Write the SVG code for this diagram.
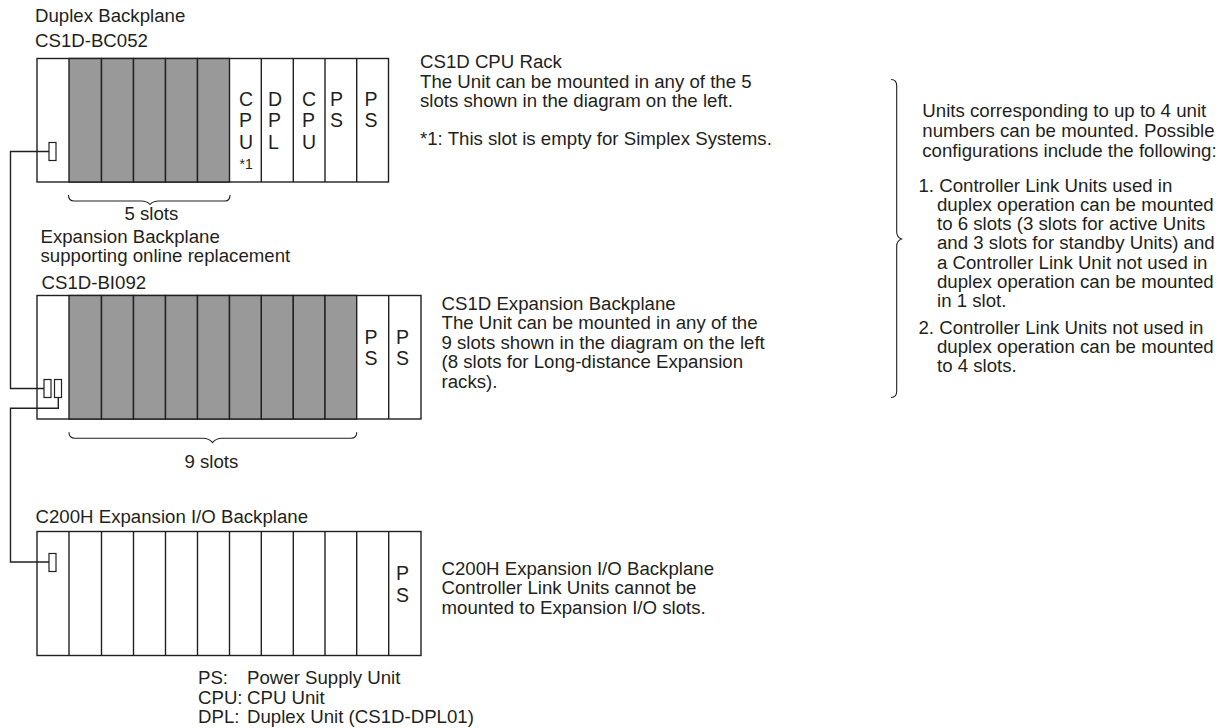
<svg xmlns="http://www.w3.org/2000/svg" width="1226" height="728" viewBox="0 0 1226 728">
<style>
text{font-family:"Liberation Sans",Arial,sans-serif;font-size:18.650px;fill:#231f20}
.b{font-size:19.500px}
.s{font-size:14px}
.r{fill:#fff;stroke:#231f20;stroke-width:1.4}
.g{fill:#999;stroke:#231f20;stroke-width:1.4}
.c{fill:#fff;stroke:#231f20;stroke-width:1.2}
.l{fill:none;stroke:#231f20;stroke-width:1.4}
.t{fill:none;stroke:#231f20;stroke-width:1.1}
</style>
<rect width="1226" height="728" fill="#fff"/>
<g id="labels-left">
<text x="35" y="21.500">Duplex Backplane</text>
<text x="35" y="46.500">CS1D-BC052</text>
<text x="40.500" y="243">Expansion Backplane</text>
<text x="40.500" y="261.500">supporting online replacement</text>
<text x="41.500" y="288.500">CS1D-BI092</text>
<text x="35.500" y="522.500">C200H Expansion I/O Backplane</text>
</g>
<g id="rack-cpu">
<rect class="r" x="37" y="58.500" width="351.500" height="123.500"/>
<rect class="g" x="69" y="58.500" width="32.500" height="123.500"/><rect class="g" x="101.500" y="58.500" width="32" height="123.500"/><rect class="g" x="133.500" y="58.500" width="32" height="123.500"/><rect class="g" x="165.500" y="58.500" width="32" height="123.500"/><rect class="g" x="197.500" y="58.500" width="32" height="123.500"/>
<path class="l" d="M261.300 58.500V182M293.300 58.500V182M325 58.500V182M356.700 58.500V182"/>
<text class="b" x="239" y="106">C</text><text class="b" x="239" y="126.500">P</text><text class="b" x="239" y="148.500">U</text>
<text class="s" x="239.500" y="169">*1</text>
<text class="b" x="268" y="106">D</text><text class="b" x="268" y="126.500">P</text><text class="b" x="268" y="148.500">L</text>
<text class="b" x="302" y="106">C</text><text class="b" x="302" y="126.500">P</text><text class="b" x="302" y="148.500">U</text>
<text class="b" x="330" y="106">P</text><text class="b" x="330" y="126.500">S</text>
<text class="b" x="364.500" y="106">P</text><text class="b" x="364.500" y="126.500">S</text>
<rect class="c" x="49" y="142.500" width="7" height="18"/>
</g>
<g id="rack-expansion">
<rect class="r" x="37" y="295.500" width="384" height="123.500"/>
<rect class="g" x="69" y="295.500" width="32.500" height="123.500"/><rect class="g" x="101.500" y="295.500" width="32" height="123.500"/><rect class="g" x="133.500" y="295.500" width="32" height="123.500"/><rect class="g" x="165.500" y="295.500" width="32" height="123.500"/><rect class="g" x="197.500" y="295.500" width="32" height="123.500"/><rect class="g" x="229.500" y="295.500" width="32" height="123.500"/><rect class="g" x="261.300" y="295.500" width="32" height="123.500"/><rect class="g" x="293.300" y="295.500" width="31.700" height="123.500"/><rect class="g" x="325" y="295.500" width="31.700" height="123.500"/>
<path class="l" d="M388.700 295.500V419"/>
<text class="b" x="364.500" y="343.500">P</text><text class="b" x="364.500" y="365">S</text>
<text class="b" x="396" y="343.500">P</text><text class="b" x="396" y="365">S</text>
<rect class="c" x="44" y="379.500" width="7" height="18"/>
<rect class="c" x="54.500" y="379.500" width="7" height="18"/>
</g>
<g id="rack-c200h">
<rect class="r" x="37" y="531.500" width="384" height="124"/>
<path class="l" d="M69 531.500V655.500M101.500 531.500V655.500M133.500 531.500V655.500M165.500 531.500V655.500M197.500 531.500V655.500M229.500 531.500V655.500M261.300 531.500V655.500M293.300 531.500V655.500M325 531.500V655.500M356.700 531.500V655.500M388.700 531.500V655.500"/>
<text class="b" x="396" y="579.500">P</text><text class="b" x="396" y="602">S</text>
<rect class="c" x="49" y="553.500" width="7" height="18"/>
</g>
<g id="connectors">
<path class="l" d="M49 151.500H10.500V388.500H44"/>
<path class="l" d="M58.300 397.500V408.300H10.500V562H49"/>
</g>
<g id="braces">
<path class="t" d="M68.500 195Q68.500 201 74 201H141Q147 201 150 204.500Q153 201 159 201H225Q230 201 230 195"/>
<path class="t" d="M69 432.300Q69 438.300 75 438.300H203Q209 438.300 212.500 442.700Q216 438.300 222 438.300H351Q356.700 438.300 356.700 432.300"/>
<path class="t" d="M891 79.500Q896.700 79.500 896.700 86V232Q896.700 237 901.500 239Q896.700 241 896.700 246V391Q896.700 397.500 891 397.500"/>
</g>
<g id="brace-labels">
<text x="124.500" y="220">5 slots</text>
<text x="184.500" y="468.300">9 slots</text>
</g>
<g id="desc-cpu">
<text x="420" y="68.300">CS1D CPU Rack</text>
<text x="420" y="87.500">The Unit can be mounted in any of the 5</text>
<text x="420" y="107">slots shown in the diagram on the left.</text>
<text x="420" y="144.500">*1: This slot is empty for Simplex Systems.</text>
</g>
<g id="desc-expansion">
<text x="441.500" y="309.500">CS1D Expansion Backplane</text>
<text x="441.500" y="329">The Unit can be mounted in any of the</text>
<text x="441.500" y="348.500">9 slots shown in the diagram on the left</text>
<text x="441.500" y="368">(8 slots for Long-distance Expansion</text>
<text x="441.500" y="387.500">racks).</text>
</g>
<g id="desc-c200h">
<text x="441.500" y="574.500">C200H Expansion I/O Backplane</text>
<text x="441.500" y="594.300">Controller Link Units cannot be</text>
<text x="441.500" y="614.300">mounted to Expansion I/O slots.</text>
</g>
<g id="legend">
<text x="198" y="684">PS:</text><text x="247" y="684">Power Supply Unit</text>
<text x="198" y="703.500">CPU:</text><text x="247" y="703.500">CPU Unit</text>
<text x="198" y="723">DPL:</text><text x="247" y="723">Duplex Unit (CS1D-DPL01)</text>
</g>
<g id="notes">
<text x="922.300" y="117.300">Units corresponding to up to 4 unit</text>
<text x="922.300" y="137">numbers can be mounted. Possible</text>
<text x="922.300" y="156.500">configurations include the following:</text>
<text x="918.500" y="191.500">1. Controller Link Units used in</text>
<text x="937" y="210.700">duplex operation can be mounted</text>
<text x="937" y="230">to 6 slots (3 slots for active Units</text>
<text x="937" y="249.300">and 3 slots for standby Units) and</text>
<text x="937" y="268.500">a Controller Link Unit not used in</text>
<text x="937" y="288.300">duplex operation can be mounted</text>
<text x="937" y="307.300">in 1 slot.</text>
<text x="918.500" y="334">2. Controller Link Units not used in</text>
<text x="937" y="353.300">duplex operation can be mounted</text>
<text x="937" y="372.300">to 4 slots.</text>
</g>
</svg>
